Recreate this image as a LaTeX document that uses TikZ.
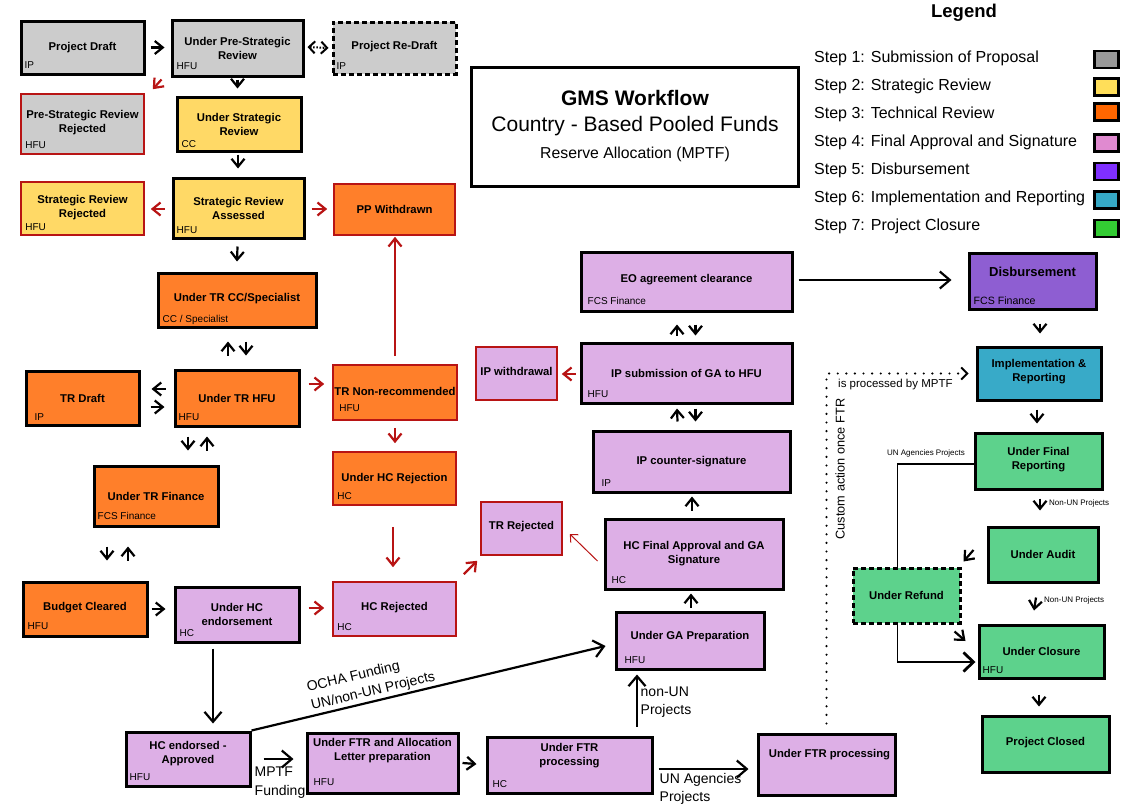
\documentclass[tikz,border=0pt]{standalone}
\usepackage{fontspec}
\setmainfont{Liberation Sans}
\usetikzlibrary{arrows.meta,fit,calc}
\definecolor{cgray}{HTML}{CCCCCC}
\definecolor{cyellow}{HTML}{FFD966}
\definecolor{corange}{HTML}{FF7F2A}
\definecolor{cpurple}{HTML}{DDAFE6}
\definecolor{cviolet}{HTML}{8E5ED2}
\definecolor{cteal}{HTML}{38AAC8}
\definecolor{cgreen}{HTML}{5DD28C}
\definecolor{cred}{HTML}{B81414}
\definecolor{lgray}{HTML}{999999}
\definecolor{lyellow}{HTML}{FFDE59}
\definecolor{lorange}{HTML}{FF6600}
\definecolor{lpink}{HTML}{E08AD0}
\definecolor{lviolet}{HTML}{7F2FFF}
\definecolor{lteal}{HTML}{36A9C6}
\definecolor{lgreen}{HTML}{33CC33}
\tikzset{
  bx/.style={draw=black, line width=3pt, inner sep=0pt},
  rbx/.style={draw=cred, line width=1.6pt, inner sep=0pt},
  dbx/.style={draw=black, line width=3pt, dash pattern=on 5pt off 3pt, inner sep=0pt},
  tt/.style={font=\fontsize{11.3}{14}\selectfont\bfseries, align=center, inner sep=0pt},
  rl/.style={font=\fontsize{10}{12}\selectfont, anchor=base west, inner sep=0pt},
  arr/.style={line width=2.2pt, -{Straight Barb[length=8pt,width=13pt]}},
  barr/.style={line width=2.2pt, -{Straight Barb[length=10pt,width=17pt]}},
  rarr/.style={arr, color=cred},
  elab/.style={font=\fontsize{14}{18.5}\selectfont, align=left, inner sep=0pt},
  slab/.style={font=\fontsize{8}{9}\selectfont, inner sep=0pt},
  lgt/.style={font=\fontsize{16}{18}\selectfont, anchor=west, inner sep=0pt},
  sw/.style={draw=black, line width=2.5pt, minimum width=24pt, minimum height=17pt, inner sep=0pt},
}
\begin{document}
\begin{tikzpicture}[x=1pt,y=-1pt]
\useasboundingbox (0,0) rectangle (1136,811);

% ---------- title & legend
\node[draw=black, line width=3pt, fill=white, inner sep=0pt, fit={(471,67)(798,186)}] (tb) {};
\node[font=\fontsize{21}{24}\selectfont\bfseries, inner sep=0pt] (tb1) at (635,98) {GMS Workflow};
\node[font=\fontsize{21}{24}\selectfont, inner sep=0pt] (tb2) at (635,126) {Country - Based Pooled Funds};
\node[font=\fontsize{15.8}{18}\selectfont, inner sep=0pt] (tb3) at (635,154) {Reserve Allocation (MPTF)};

\node[font=\fontsize{18.5}{20}\selectfont\bfseries, inner sep=0pt] (lg) at (964,13) {Legend};
\node[lgt] (l1) at (814,58) {Step 1: Submission of Proposal};
\node[lgt] (l2) at (814,86) {Step 2: Strategic Review};
\node[lgt] (l3) at (814,114) {Step 3: Technical Review};
\node[lgt] (l4) at (814,142) {Step 4: Final Approval and Signature};
\node[lgt] (l5) at (814,170) {Step 5: Disbursement};
\node[lgt] (l6) at (814,198) {Step 6: Implementation and Reporting};
\node[lgt] (l7) at (814,226) {Step 7: Project Closure};
\node[sw, fill=lgray] (s1) at (1106.5,59.5) {};
\node[sw, fill=lyellow] (s2) at (1106.5,87) {};
\node[sw, fill=lorange] (s3) at (1106.5,112) {};
\node[sw, fill=lpink] (s4) at (1106.5,143) {};
\node[sw, fill=lviolet] (s5) at (1106.5,171.5) {};
\node[sw, fill=lteal] (s6) at (1106.5,200) {};
\node[sw, fill=lgreen] (s7) at (1106.5,228.5) {};

% ---------- step 1 (gray)
\node[bx, fill=cgray, fit={(21,21)(144,74)}] (pd) {};
\node[tt] (pd-t) at (pd) {Project Draft};
\node[rl] (pd-r) at ([shift={(5,-7)}]pd.south west) {IP};

\node[bx, fill=cgray, fit={(172,20)(303,76)}] (upsr) {};
\node[tt] (upsr-t) at (upsr) {Under Pre-Strategic\\Review};
\node[rl] (upsr-r) at ([shift={(6,-8)}]upsr.south west) {HFU};

\node[dbx, fill=cgray, fit={(333,22)(456,74)}] (prd) {};
\node[tt] (prd-t) at ([shift={(0,-1)}]prd) {Project Re-Draft};
\node[rl] (prd-r) at ([shift={(5,-6)}]prd.south west) {IP};

\node[rbx, fill=cgray, fit={(21,94)(144,154)}] (psrr) {};
\node[tt] (psrr-t) at ([shift={(0,-1)}]psrr) {Pre-Strategic Review\\Rejected};
\node[rl] (psrr-r) at ([shift={(5,-6)}]psrr.south west) {HFU};

% ---------- step 2 (yellow)
\node[bx, fill=cyellow, fit={(177,97)(301,151)}] (usr) {};
\node[tt] (usr-t) at (usr) {Under Strategic\\Review};
\node[rl] (usr-r) at ([shift={(6,-5)}]usr.south west) {CC};

\node[rbx, fill=cyellow, fit={(21,182)(144,235)}] (srr) {};
\node[tt] (srr-t) at ([shift={(0,-1)}]srr) {Strategic Review\\Rejected};
\node[rl] (srr-r) at ([shift={(5,-5)}]srr.south west) {HFU};

\node[bx, fill=cyellow, fit={(173,178)(304,238)}] (sra) {};
\node[tt] (sra-t) at (sra) {Strategic Review\\Assessed};
\node[rl] (sra-r) at ([shift={(5,-6)}]sra.south west) {HFU};

% ---------- step 3 (orange)
\node[rbx, fill=corange, fit={(334,184)(455,235)}] (ppw) {};
\node[tt] (ppw-t) at (ppw) {PP Withdrawn};

\node[bx, fill=corange, fit={(158,273)(316,327)}] (utrcc) {};
\node[tt] (utrcc-t) at ([shift={(0,-1)}]utrcc) {Under TR CC/Specialist};
\node[rl] (utrcc-r) at ([shift={(6,-6)}]utrcc.south west) {CC / Specialist};

\node[bx, fill=corange, fit={(26,371)(139,425)}] (trd) {};
\node[tt] (trd-t) at (trd) {TR Draft};
\node[rl] (trd-r) at ([shift={(10,-6)}]trd.south west) {IP};

\node[bx, fill=corange, fit={(175,370)(299,426)}] (utrh) {};
\node[tt] (utrh-t) at (utrh) {Under TR HFU};
\node[rl] (utrh-r) at ([shift={(5,-7)}]utrh.south west) {HFU};

\node[rbx, fill=corange, fit={(333,365)(457,420)}] (trnr) {};
\node[tt] (trnr-t) at ([shift={(0,-1)}]trnr) {TR Non-recommended};
\node[rl] (trnr-r) at ([shift={(7,-9)}]trnr.south west) {HFU};

\node[bx, fill=corange, fit={(94,466)(218,526)}] (utrf) {};
\node[tt] (utrf-t) at (utrf) {Under TR Finance};
\node[rl] (utrf-r) at ([shift={(5,-8)}]utrf.south west) {FCS Finance};

\node[rbx, fill=corange, fit={(333,452)(456,505)}] (uhcr) {};
\node[tt] (uhcr-t) at (uhcr) {Under HC Rejection};
\node[rl] (uhcr-r) at ([shift={(5,-6)}]uhcr.south west) {HC};

\node[bx, fill=corange, fit={(23,582)(147,636)}] (bc) {};
\node[tt] (bc-t) at ([shift={(0,-1)}]bc) {Budget Cleared};
\node[rl] (bc-r) at ([shift={(6,-8)}]bc.south west) {HFU};

% ---------- step 4 (purple)
\node[bx, fill=cpurple, fit={(175,587)(299,642)}] (uhce) {};
\node[tt] (uhce-t) at (uhce) {Under HC\\endorsement};
\node[rl] (uhce-r) at ([shift={(6,-7)}]uhce.south west) {HC};

\node[rbx, fill=cpurple, fit={(333,582)(456,636)}] (hcr) {};
\node[tt] (hcr-t) at ([shift={(0,-1)}]hcr) {HC Rejected};
\node[rl] (hcr-r) at ([shift={(5,-6)}]hcr.south west) {HC};

\node[bx, fill=cpurple, fit={(126,732)(250,786)}] (hcea) {};
\node[tt] (hcea-t) at ([shift={(0,-5.5)}]hcea) {HC endorsed -\\Approved};
\node[rl] (hcea-r) at ([shift={(5,-7)}]hcea.south west) {HFU};

\node[bx, fill=cpurple, fit={(307,733)(458,793)}] (uftra) {};
\node[tt] (uftra-t) at ([shift={(0,-12.5)}]uftra) {Under FTR and Allocation\\Letter preparation};
\node[rl] (uftra-r) at ([shift={(8,-9)}]uftra.south west) {HFU};

\node[bx, fill=cpurple, fit={(487,737)(652,793)}] (uftrp) {};
\node[tt] (uftrp-t) at ([shift={(0,-9)}]uftrp) {Under FTR\\processing};
\node[rl] (uftrp-r) at ([shift={(7,-7)}]uftrp.south west) {HC};

\node[bx, fill=cpurple, fit={(758,734)(895,795)}] (uftrp2) {};
\node[tt] (uftrp2-t) at ([shift={(3,-9.5)}]uftrp2) {Under FTR processing};

\node[bx, fill=cpurple, fit={(616,612)(764,669)}] (ugap) {};
\node[tt] (ugap-t) at ([shift={(0,-3.5)}]ugap) {Under GA Preparation};
\node[rl] (ugap-r) at ([shift={(10,-7)}]ugap.south west) {HFU};

\node[bx, fill=cpurple, fit={(605,519)(783,589)}] (hcfa) {};
\node[tt] (hcfa-t) at (hcfa) {HC Final Approval and GA\\Signature};
\node[rl] (hcfa-r) at ([shift={(8,-7)}]hcfa.south west) {HC};

\node[rbx, fill=cpurple, fit={(481,502)(562,555)}] (trr) {};
\node[tt] (trr-t) at ([shift={(0,-1.5)}]trr) {TR Rejected};

\node[bx, fill=cpurple, fit={(593,431)(790,492)}] (ipcs) {};
\node[tt] (ipcs-t) at (ipcs) {IP counter-signature};
\node[rl] (ipcs-r) at ([shift={(10,-7)}]ipcs.south west) {IP};

\node[bx, fill=cpurple, fit={(581,343)(792,403)}] (ipsub) {};
\node[tt] (ipsub-t) at (ipsub) {IP submission of GA to HFU};
\node[rl] (ipsub-r) at ([shift={(8,-7)}]ipsub.south west) {HFU};

\node[rbx, fill=cpurple, fit={(476,347)(557,400)}] (ipw) {};
\node[tt] (ipw-t) at ([shift={(0,-2.5)}]ipw) {IP withdrawal};

\node[bx, fill=cpurple, fit={(581,252)(792,311)}] (eo) {};
\node[tt] (eo-t) at ([shift={(0,-1.5)}]eo) {EO agreement clearance};
\node[rl] (eo-r) at ([shift={(8,-8)}]eo.south west) {FCS Finance};

% ---------- steps 5-7
\node[bx, fill=cviolet, fit={(969,253)(1096,309)}] (disb) {};
\node[tt, font=\fontsize{13}{15}\selectfont\bfseries] (disb-t) at ([shift={(0,-9)}]disb) {Disbursement};
\node[rl, font=\fontsize{10.6}{12}\selectfont] (disb-r) at ([shift={(6,-6)}]disb.south west) {FCS Finance};

\node[bx, fill=cteal, fit={(977,347)(1101,400)}] (impl) {};
\node[tt] (impl-t) at ([shift={(0,-1.5)}]impl) {Implementation \&\\Reporting};

\node[bx, fill=cgreen, fit={(975,433)(1102,489)}] (ufr) {};
\node[tt] (ufr-t) at ([shift={(0,-1)}]ufr) {Under Final\\Reporting};

\node[bx, fill=cgreen, fit={(988,527)(1098,582)}] (ua) {};
\node[tt] (ua-t) at (ua) {Under Audit};

\node[bx, fill=cgreen, fit={(979,625)(1104,678)}] (ucl) {};
\node[tt] (ucl-t) at (ucl) {Under Closure};
\node[rl] (ucl-r) at ([shift={(5,-6)}]ucl.south west) {HFU};

\node[bx, fill=cgreen, fit={(982,716)(1109,772)}] (pcl) {};
\node[tt] (pcl-t) at ([shift={(0,-1)}]pcl) {Project Closed};

% UN agencies path (behind the refund box)
\draw[line width=1.5pt, -{Straight Barb[length=10pt,width=19pt,line width=2.8pt]}]
  ([shift={(0,3)}]ufr.west) -| ([shift={(-80,10.5)}]ucl.west) -- ([shift={(-2,10.5)}]ucl.west);
\node[slab] (unag) at (926,453) {UN Agencies Projects};

\node[dbx, fill=cgreen, fit={(853,568)(960,623)}] (uref) {};
\node[tt] (uref-t) at (uref) {Under Refund};

% ---------- connectors
\draw[arr] ([shift={(5,0)}]pd.east) -- ([shift={(-6,0)}]pd.east -| upsr.west);
\draw[line width=2pt, dash pattern=on 1.6pt off 1.6pt,
  {Straight Barb[length=6pt,width=12pt]}-{Straight Barb[length=6pt,width=12pt]}]
  ([shift={(3,-1)}]upsr.east) -- ([shift={(-3,0)}]prd.west);
\draw[rarr] ([shift={(-9,2)}]upsr.south west) -- ([shift={(8,-4)}]psrr.north east);
\draw[arr] ([shift={(0,2)}]upsr.south) -- ([shift={(0,-7)}]upsr.south |- usr.north);
\draw[arr] ([shift={(-1,2)}]usr.south) -- ([shift={(-1,-8)}]usr.south |- sra.north);
\draw[rarr] ([shift={(-7,1)}]sra.west) -- ([shift={(6,1)}]sra.west -| srr.east);
\draw[rarr] ([shift={(6,1)}]sra.east) -- ([shift={(-6,1)}]sra.east -| ppw.west);
\draw[arr] ([shift={(-1,7)}]sra.south) -- ([shift={(0,-10)}]utrcc.north);
\draw[arr] ([shift={(-9,-13)}]utrh.north) -- ([shift={(-9,13)}]utrcc.south);
\draw[arr] ([shift={(9,13)}]utrcc.south) -- ([shift={(9,-13)}]utrh.north);
\draw[arr] ([shift={(-8,-9)}]utrh.west) -- ([shift={(11,-9)}]trd.east);
\draw[arr] ([shift={(10,9)}]trd.east) -- ([shift={(-9,9)}]utrh.west);
\draw[rarr] ([shift={(8,-14)}]utrh.east) -- ([shift={(-8,-8.5)}]trnr.west);
\draw[rarr] ([shift={(0,-8)}]trnr.north) -- ([shift={(0,1)}]trnr.north |- ppw.south);
\draw[rarr] ([shift={(0,7)}]trnr.south) -- ([shift={(0.5,-8)}]uhcr.north);
\draw[rarr] ([shift={(-1.5,21)}]uhcr.south) -- ([shift={(-1.5,-14)}]hcr.north);
\draw[arr] ([shift={(-49,9)}]utrh.south) -- ([shift={(32,-14)}]utrf.north);
\draw[arr] ([shift={(51,-14)}]utrf.north) -- ([shift={(-30,9)}]utrh.south);
\draw[arr] ([shift={(-49,19)}]utrf.south) -- ([shift={(22,-20)}]bc.north);
\draw[arr] ([shift={(43,-20)}]bc.north) -- ([shift={(-28,19)}]utrf.south);
\draw[arr] ([shift={(3,0)}]bc.east) -- ([shift={(-8,0)}]bc.east -| uhce.west);
\draw[rarr] ([shift={(8,-6.5)}]uhce.east) -- ([shift={(-8,-1)}]hcr.west);
\draw[rarr] ([shift={(7,-7)}]hcr.north east) -- ([shift={(-3,5)}]trr.south west);
\draw[barr] ([shift={(-24,5)}]uhce.south) -- ([shift={(25,-7)}]hcea.north);
\draw[barr] (hcea.north east) -- node[elab, sloped, above=2pt, pos=0.35] (ocha) {OCHA Funding\\UN/non-UN Projects} ([shift={(-9,5.5)}]ugap.west);
\draw[barr] ([shift={(12,0)}]hcea.east) -- ([shift={(-12,0)}]hcea.east -| uftra.west);
\node[elab, anchor=north west] (mptf) at ([shift={(3,8)}]hcea.east) {MPTF\\Funding};
\draw[arr] ([shift={(3,0)}]uftra.east) -- ([shift={(-9,-1)}]uftrp.west);
\draw[barr] ([shift={(67.5,-9)}]uftrp.north) -- ([shift={(-53,4)}]ugap.south);
\node[elab, anchor=north west] (nonun) at ([shift={(71,-49)}]uftrp.north) {non-UN\\Projects};
\draw[barr] ([shift={(5,4)}]uftrp.east) -- ([shift={(-8,4.5)}]uftrp2.west);
\node[elab, anchor=north west] (unagp) at ([shift={(6,8)}]uftrp.east) {UN Agencies\\Projects};
\draw[arr] ([shift={(1,-3)}]ugap.north) -- ([shift={(-3,3)}]hcfa.south);
\draw[arr] ([shift={(-2,-7)}]hcfa.north) -- ([shift={(0.5,3)}]ipcs.south);
\draw[line width=1pt, color=cred, -{Straight Barb[length=6pt,width=11pt]}] ([shift={(-6,7)}]hcfa.west) -- ([shift={(7,5.5)}]trr.east);
\draw[arr] ([shift={(-14,-8)}]ipcs.north) -- ([shift={(-9.5,4)}]ipsub.south);
\draw[arr] ([shift={(9,4)}]ipsub.south) -- ([shift={(4,-8)}]ipcs.north);
\draw[rarr] ([shift={(-4,1)}]ipsub.west) -- ([shift={(4,0.5)}]ipw.east);
\draw[arr] ([shift={(-9.5,-6)}]ipsub.north) -- ([shift={(-9.5,12)}]eo.south);
\draw[arr] ([shift={(9,12)}]eo.south) -- ([shift={(9,-6)}]ipsub.north);
\draw[barr] ([shift={(5,-1.5)}]eo.east) -- ([shift={(-16,-1)}]disb.west);
\draw[arr] ([shift={(7.5,13)}]disb.south) -- ([shift={(1,-12)}]impl.north);
\draw[arr] ([shift={(-2,8)}]impl.south) -- ([shift={(-1.5,-8)}]ufr.north);
\draw[arr] ([shift={(1.5,8)}]ufr.south) -- ([shift={(-3,-15)}]ua.north);
\node[slab, anchor=west] (nonun1) at (1049,503) {Non-UN Projects};
\draw[arr] ([shift={(-13,-4.5)}]ua.west) -- ([shift={(2,-5)}]uref.north east);
\draw[arr] ([shift={(-7,7)}]uref.south east) -- ([shift={(-12,-10.5)}]ucl.west);
\draw[arr] ([shift={(-7,14)}]ua.south) -- ([shift={(-7.5,-13)}]ucl.north);
\node[slab, anchor=west] (nonun2) at (1044,600) {Non-UN Projects};
\draw[arr] ([shift={(-2.5,15)}]ucl.south) -- ([shift={(-6.5,-8)}]pcl.north);

% dotted custom action
\draw[line width=2.4pt, line cap=round, dash pattern=on 0pt off 8.6pt,
  -{Straight Barb[length=6pt,width=12pt,line width=1.8pt]}]
  ([shift={(0,-9)}]uftrp2.north) |- ([shift={(-7,0)}]impl.west);
\node[font=\fontsize{11.5}{13}\selectfont, anchor=west, inner sep=0pt] (ispr) at (838,385) {is processed by MPTF};
\node[font=\fontsize{12.7}{14}\selectfont, rotate=90, inner sep=0pt] (cust) at (840,469) {Custom action once FTR};
\end{tikzpicture}
\end{document}
